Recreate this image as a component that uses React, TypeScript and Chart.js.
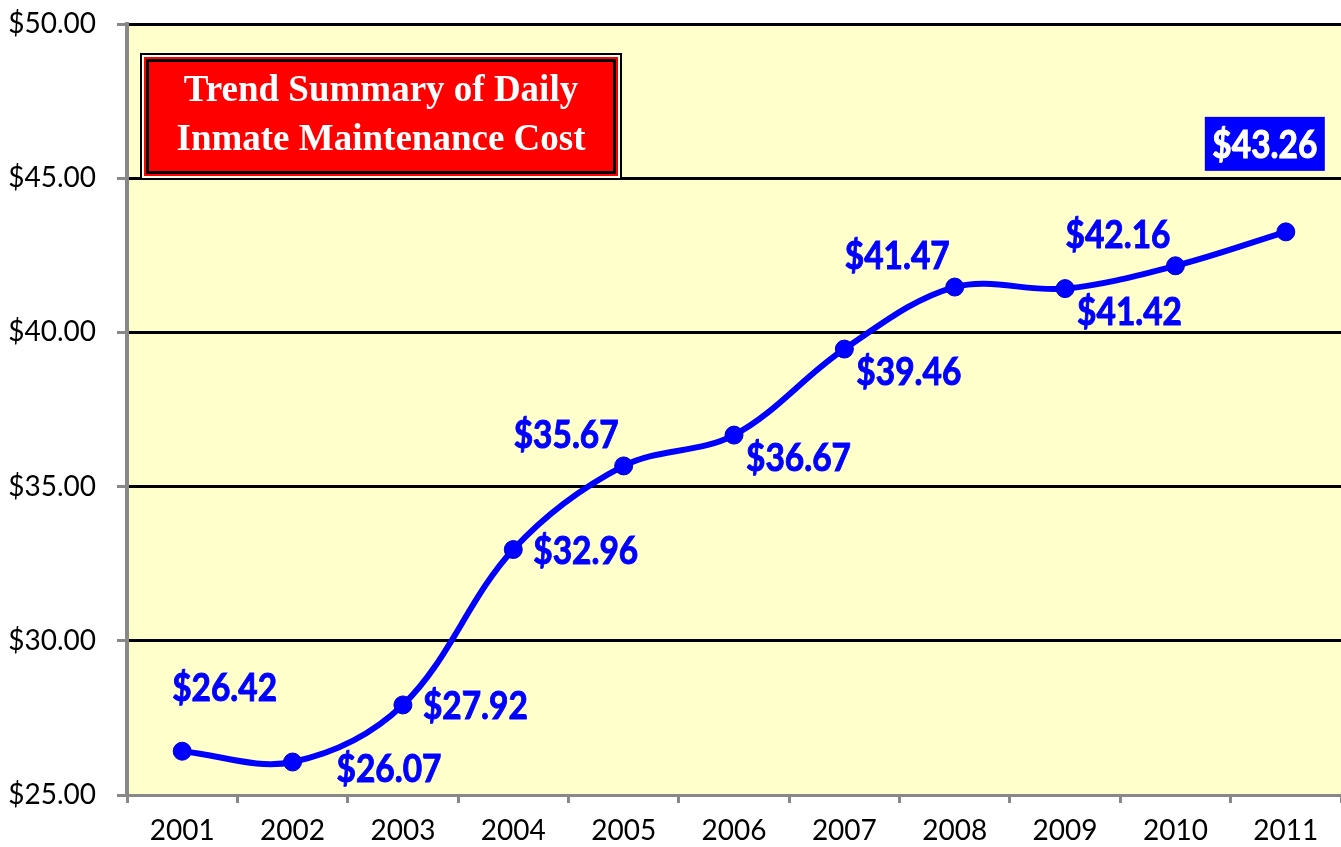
import React, { useEffect, useRef } from 'react';
import { Chart, registerables } from 'chart.js';

Chart.register(...registerables);

const years = ['2001', '2002', '2003', '2004', '2005', '2006', '2007', '2008', '2009', '2010', '2011'];
const dailyCost = [26.42, 26.07, 27.92, 32.96, 35.67, 36.67, 39.46, 41.47, 41.42, 42.16, 43.26];
const yMin = 25;
const yMax = 50;
const yStep = 5;
const titleLines = ['Trend Summary of Daily', 'Inmate Maintenance Cost'];
const labelPlacement = ['above', 'lowRight', 'right', 'right', 'upLeft', 'rightDown', 'rightDown', 'upLeft', 'rightDown', 'upLeft', 'box'];

const placementStyles: Record<string, { align: CanvasTextAlign; dx: number; dy: number }> = {
  above: { align: 'left', dx: -10, dy: -64 },
  upLeft: { align: 'right', dx: -5, dy: -32 },
  right: { align: 'left', dx: 20, dy: 0 },
  lowRight: { align: 'left', dx: 44, dy: 6 },
  rightDown: { align: 'left', dx: 12, dy: 22 },
  box: { align: 'center', dx: -21, dy: -88 },
};

const GRAY = '#888888';
const BLUE = '#0000FF';
const fmt = (v: number) => '$' + v.toFixed(2);
const X_SQUEEZE = 0.88;

const backgroundPlugin = {
  id: 'bgPlugin',
  beforeDraw(chart: any) {
    const { ctx, chartArea, width, height } = chart;
    ctx.save();
    ctx.fillStyle = '#FFFFFF';
    ctx.fillRect(0, 0, width, height);
    ctx.fillStyle = '#FFFFCC';
    ctx.fillRect(chartArea.left, chartArea.top, chartArea.right - chartArea.left, chartArea.bottom - chartArea.top);
    ctx.restore();
  },
};

const labelsPlugin = {
  id: 'valueLabels',
  afterDatasetsDraw(chart: any) {
    const { ctx } = chart;
    const meta = chart.getDatasetMeta(0);
    meta.data.forEach((pt: any, i: number) => {
      const style = placementStyles[labelPlacement[i]];
      const text = fmt(dailyCost[i]);
      const x = pt.x + style.dx;
      const y = pt.y + style.dy;
      ctx.save();
      let color = BLUE;
      if (labelPlacement[i] === 'box') {
        const w = 120;
        const h = 54;
        ctx.fillStyle = BLUE;
        ctx.fillRect(x - w / 2, y - h / 2, w, h);
        color = '#FFFFFF';
      }
      ctx.fillStyle = color;
      ctx.strokeStyle = color;
      ctx.lineWidth = 1;
      ctx.translate(x, y + 2);
      ctx.scale(X_SQUEEZE, 1);
      ctx.font = 'bold 38px Lato';
      ctx.textBaseline = 'middle';
      ctx.textAlign = style.align;
      ctx.fillText(text, 0, 0);
      ctx.strokeText(text, 0, 0);
      ctx.restore();
    });
  },
};

const titlePlugin = {
  id: 'titleBox',
  afterDraw(chart: any) {
    const { ctx } = chart;
    const x = 140, y = 53, w = 482, h = 127;
    ctx.save();
    const layers: [number, string][] = [
      [0, '#000000'],
      [2, '#FFFFF0'],
      [4, '#FF0000'],
      [6, '#000000'],
      [9, '#FF0000'],
    ];
    layers.forEach(([inset, color]) => {
      ctx.fillStyle = color;
      ctx.fillRect(x + inset, y + inset, w - 2 * inset, h - 2 * inset);
    });
    ctx.fillStyle = '#FFFFFF';
    ctx.font = 'bold 37px "Liberation Serif"';
    ctx.textAlign = 'center';
    ctx.textBaseline = 'alphabetic';
    ctx.fillText(titleLines[0], x + w / 2, 101);
    ctx.fillText(titleLines[1], x + w / 2, 150);
    ctx.restore();
  },
};

export default function App() {
  const canvasRef = useRef<HTMLCanvasElement | null>(null);

  useEffect(() => {
    document.body.style.margin = '0';
    const canvas = canvasRef.current;
    if (!canvas) return;
    const chart = new Chart(canvas, {
      type: 'line',
      data: {
        labels: years,
        datasets: [
          {
            data: dailyCost,
            borderColor: BLUE,
            borderWidth: 6,
            tension: 0.35,
            pointRadius: 9,
            pointBackgroundColor: BLUE,
            pointBorderColor: '#0000CC',
            pointBorderWidth: 1,
            fill: false,
          },
        ],
      },
      options: {
        responsive: false,
        animation: false,
        devicePixelRatio: 1,
        layout: { autoPadding: false, padding: { top: 24, right: 0, left: 0, bottom: 0 } },
        plugins: {
          legend: { display: false },
          title: { display: false },
          tooltip: { enabled: false },
        },
        scales: {
          x: {
            offset: true,
            grid: {
              offset: true,
              drawOnChartArea: false,
              drawTicks: true,
              tickLength: 8,
              tickColor: GRAY,
              tickWidth: 3,
              color: GRAY,
            },
            border: { color: GRAY, width: 3 },
            ticks: {
              color: '#000000',
              font: { family: 'Lato', size: 28 },
              padding: 11,
              maxRotation: 0,
            },
            afterFit(scale: any) {
              scale.height = 52;
              scale.paddingLeft = 0;
              scale.paddingRight = 0;
            },
          },
          y: {
            min: yMin,
            max: yMax,
            ticks: {
              stepSize: yStep,
              color: '#000000',
              font: { family: 'Lato', size: 28 },
              padding: 21,
              callback: (v: any) => fmt(Number(v)),
            },
            grid: {
              color: (c: any) => (c.tick && c.tick.value === yMin ? 'rgba(0,0,0,0)' : '#000000'),
              lineWidth: 3,
              tickColor: GRAY,
              tickLength: 10,
              tickWidth: 3,
            },
            border: { color: GRAY, width: 4 },
            afterFit(scale: any) {
              scale.width = 127;
              scale.paddingTop = 0;
              scale.paddingBottom = 0;
            },
          },
        },
      },
      plugins: [backgroundPlugin, labelsPlugin, titlePlugin],
    });
    return () => chart.destroy();
  }, []);

  return (
    <div style={{ width: 1341, height: 847, overflow: 'hidden' }}>
      <canvas ref={canvasRef} width={1341} height={847} style={{ display: 'block' }} />
    </div>
  );
}
